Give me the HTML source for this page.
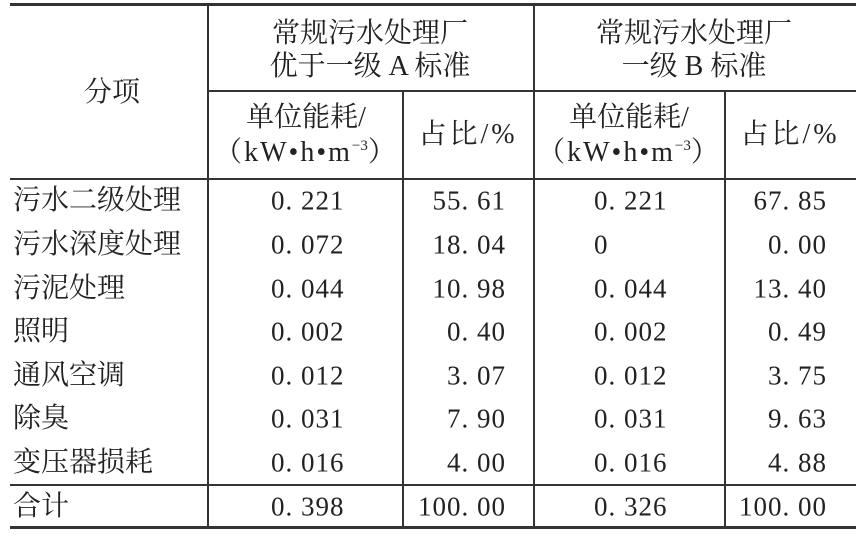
<!DOCTYPE html>
<html><head><meta charset="utf-8"><style>
body{margin:0;background:#fff;width:865px;height:537px;position:relative;overflow:hidden;font-family:"Liberation Serif","Noto Serif CJK SC",serif;color:#222;font-size:28px}
.l{position:absolute;background:#333}
.t{position:absolute;white-space:nowrap;line-height:1;transform:translateY(-50%)}
.n{font-size:27px;letter-spacing:1px}
.c{transform:translate(-50%,-50%)}
.r{transform:translate(-100%,-50%)}
.k{font-size:28px;letter-spacing:2px}
.p{letter-spacing:3px}
sup{font-size:15px;vertical-align:11px;letter-spacing:0}
</style></head><body>
<div class="l" style="left:10px;top:3px;width:846px;height:3px"></div>
<div class="l" style="left:10px;top:178px;width:846px;height:2px"></div>
<div class="l" style="left:10px;top:484px;width:846px;height:2px"></div>
<div class="l" style="left:10px;top:526px;width:846px;height:3px"></div>
<div class="l" style="left:207px;top:90px;width:649px;height:2px"></div>
<div class="l" style="left:207px;top:5px;width:2px;height:523px"></div>
<div class="l" style="left:402px;top:91px;width:2px;height:437px"></div>
<div class="l" style="left:533px;top:5px;width:2px;height:523px"></div>
<div class="l" style="left:724px;top:91px;width:2px;height:437px"></div>

<div class="t c" style="left:112px;top:93px">分项</div>
<div class="t c" style="left:370px;top:34px">常规污水处理厂</div>
<div class="t c" style="left:370px;top:67px">优于一级 A 标准</div>
<div class="t c" style="left:694px;top:34px">常规污水处理厂</div>
<div class="t c" style="left:694px;top:67px">一级 B 标准</div>
<div class="t c" style="left:306px;top:118px">单位能耗/</div>
<div class="t c k" style="left:306px;top:153px">（kW•h•m<sup>−3</sup>）</div>
<div class="t c p" style="left:468px;top:135px">占比/%</div>
<div class="t c" style="left:629px;top:118px">单位能耗/</div>
<div class="t c k" style="left:629px;top:153px">（kW•h•m<sup>−3</sup>）</div>
<div class="t c p" style="left:790px;top:135px">占比/%</div>

<div class="t" style="left:13px;top:201px">污水二级处理</div>
<div class="t" style="left:13px;top:245px">污水深度处理</div>
<div class="t" style="left:13px;top:289px">污泥处理</div>
<div class="t" style="left:13px;top:332px">照明</div>
<div class="t" style="left:13px;top:376px">通风空调</div>
<div class="t" style="left:13px;top:419px">除臭</div>
<div class="t" style="left:13px;top:463px">变压器损耗</div>
<div class="t" style="left:13px;top:507px">合计</div>

<div class="t n" style="left:271px;top:201px">0. 221</div>
<div class="t n" style="left:271px;top:245px">0. 072</div>
<div class="t n" style="left:271px;top:289px">0. 044</div>
<div class="t n" style="left:271px;top:332px">0. 002</div>
<div class="t n" style="left:271px;top:376px">0. 012</div>
<div class="t n" style="left:271px;top:419px">0. 031</div>
<div class="t n" style="left:271px;top:463px">0. 016</div>
<div class="t n" style="left:271px;top:507px">0. 398</div>

<div class="t n r" style="left:506px;top:201px">55. 61</div>
<div class="t n r" style="left:506px;top:245px">18. 04</div>
<div class="t n r" style="left:506px;top:289px">10. 98</div>
<div class="t n r" style="left:506px;top:332px">0. 40</div>
<div class="t n r" style="left:506px;top:376px">3. 07</div>
<div class="t n r" style="left:506px;top:419px">7. 90</div>
<div class="t n r" style="left:506px;top:463px">4. 00</div>
<div class="t n r" style="left:506px;top:507px">100. 00</div>

<div class="t n" style="left:594px;top:201px">0. 221</div>
<div class="t n" style="left:594px;top:245px">0</div>
<div class="t n" style="left:594px;top:289px">0. 044</div>
<div class="t n" style="left:594px;top:332px">0. 002</div>
<div class="t n" style="left:594px;top:376px">0. 012</div>
<div class="t n" style="left:594px;top:419px">0. 031</div>
<div class="t n" style="left:594px;top:463px">0. 016</div>
<div class="t n" style="left:594px;top:507px">0. 326</div>

<div class="t n r" style="left:827px;top:201px">67. 85</div>
<div class="t n r" style="left:827px;top:245px">0. 00</div>
<div class="t n r" style="left:827px;top:289px">13. 40</div>
<div class="t n r" style="left:827px;top:332px">0. 49</div>
<div class="t n r" style="left:827px;top:376px">3. 75</div>
<div class="t n r" style="left:827px;top:419px">9. 63</div>
<div class="t n r" style="left:827px;top:463px">4. 88</div>
<div class="t n r" style="left:827px;top:507px">100. 00</div>
</body></html>
